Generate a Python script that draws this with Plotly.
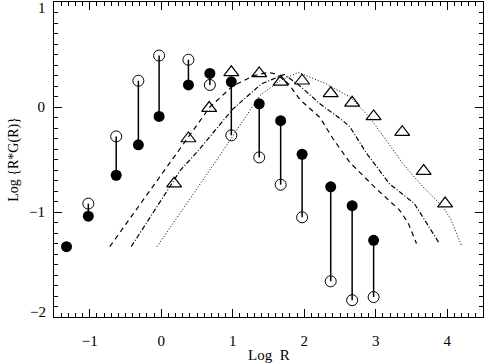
import plotly.graph_objects as go

# Filled circles (x, y)
filled_x = [-1.325, -1.02, -0.63, -0.32, -0.03, 0.38, 0.68, 0.98, 1.37, 1.67, 1.97, 2.37, 2.67, 2.97]
filled_y = [-1.33, -1.04, -0.65, -0.36, -0.09, 0.21, 0.32, 0.24, 0.03, -0.13, -0.45, -0.76, -0.94, -1.27]

# Open circles
open_x = [-1.02, -0.63, -0.32, -0.03, 0.38, 0.68, 0.98, 1.37, 1.67, 1.97, 2.37, 2.67, 2.97]
open_y = [-0.92, -0.28, 0.25, 0.49, 0.45, 0.21, -0.27, -0.48, -0.74, -1.05, -1.66, -1.84, -1.81]

# Open triangles
tri_x = [0.18, 0.38, 0.67, 0.98, 1.37, 1.67, 1.97, 2.37, 2.67, 2.97, 3.37, 3.67, 3.97]
tri_y = [-0.73, -0.30, -0.01, 0.33, 0.32, 0.24, 0.25, 0.13, 0.04, -0.09, -0.24, -0.61, -0.92]

# Model curves
dash_x = [-0.72, 0.0, 0.68, 1.0, 1.3, 1.5, 1.62, 1.78, 1.94, 2.22, 2.40, 2.64, 3.01, 3.33, 3.45, 3.57]
dash_y = [-1.33, -0.64, 0.0, 0.2, 0.3, 0.33, 0.31, 0.22, 0.07, -0.1, -0.3, -0.53, -0.78, -0.98, -1.1, -1.3]

dashdot_x = [-0.42, 0.03, 0.27, 0.5, 1.0, 1.4, 1.72, 1.94, 2.22, 2.54, 2.64, 2.87, 3.19, 3.54, 3.68, 3.89]
dashdot_y = [-1.33, -0.85, -0.6, -0.43, -0.02, 0.22, 0.31, 0.2, 0.03, -0.13, -0.19, -0.44, -0.73, -0.92, -1.07, -1.3]

dot_x = [-0.06, 0.82, 1.38, 1.66, 1.92, 2.31, 2.64, 2.91, 3.15, 3.38, 3.66, 3.94, 4.05, 4.2]
dot_y = [-1.33, -0.46, 0.11, 0.25, 0.33, 0.22, 0.095, -0.095, -0.32, -0.54, -0.76, -0.95, -1.07, -1.32]

x_ticks = [-1, 0, 1, 2, 3, 4]
x_labels = ["\u22121", "0", "1", "2", "3", "4"]
y_ticks = [-2, -1, 0, 1]
y_labels = ["\u22122", "\u22121", "0", "1"]

fig = go.Figure()

# connecting vertical segments
seg_x, seg_y = [], []
for xo, yo in zip(open_x, open_y):
    i = filled_x.index(xo)
    seg_x += [xo, xo, None]
    seg_y += [filled_y[i], yo, None]
fig.add_trace(go.Scatter(x=seg_x, y=seg_y, mode="lines",
                         line=dict(color="black", width=1.5), showlegend=False))

fig.add_trace(go.Scatter(x=dash_x, y=dash_y, mode="lines",
                         line=dict(color="black", width=1.2, dash="5px,4px"), showlegend=False))
fig.add_trace(go.Scatter(x=dashdot_x, y=dashdot_y, mode="lines",
                         line=dict(color="black", width=1.2, dash="5px,2px,1px,2px"), showlegend=False))
fig.add_trace(go.Scatter(x=dot_x, y=dot_y, mode="lines",
                         line=dict(color="black", width=1, dash="1px,2px"), showlegend=False))

fig.add_trace(go.Scatter(x=open_x, y=open_y, mode="markers",
                         marker=dict(symbol="circle-open", size=11, color="black", line=dict(width=1)),
                         showlegend=False))
fig.add_trace(go.Scatter(x=filled_x, y=filled_y, mode="markers",
                         marker=dict(symbol="circle", size=11, color="black"),
                         showlegend=False))
fig.add_trace(go.Scatter(x=tri_x, y=tri_y, mode="markers",
                         marker=dict(symbol="triangle-up-open", size=13, color="black", line=dict(width=1.2)),
                         showlegend=False))

family = "Liberation Serif, Times New Roman, serif"
font = dict(family=family, size=15, color="black")
axis_common = dict(showline=True, linecolor="black", linewidth=1.2, mirror="allticks",
                   ticks="inside", ticklen=8, tickwidth=1.2, tickcolor="black",
                   showgrid=False, zeroline=False, tickfont=font, automargin=False,
                   minor=dict(ticks="inside", ticklen=4, tickwidth=1, tickcolor="black", dtick=0.1, showgrid=False))

fig.update_xaxes(range=[-1.5, 4.5], tickvals=x_ticks, ticktext=x_labels, ticklabelstandoff=10, **axis_common)
# end labels of the y axis are nudged inward (as in the original), drawn as annotations
inner_labels = [lab if t not in (y_ticks[0], y_ticks[-1]) else "" for t, lab in zip(y_ticks, y_labels)]
fig.update_yaxes(range=[-2, 1], tickvals=y_ticks, ticktext=inner_labels, ticklabelstandoff=5, **axis_common)
fig.add_annotation(text=y_labels[-1], xref="paper", yref="y", x=0, y=y_ticks[-1], xanchor="right",
                   yanchor="middle", yshift=-6, xshift=-6, showarrow=False, font=font)
fig.add_annotation(text=y_labels[0], xref="paper", yref="y", x=0, y=y_ticks[0], xanchor="right",
                   yanchor="middle", yshift=5, xshift=-6, showarrow=False, font=font)

fig.add_annotation(text="Log  R", xref="paper", yref="paper", x=0.5, y=-0.122,
                   xanchor="center", yanchor="middle", showarrow=False, font=font)
fig.add_annotation(text="Log {R*G(R)}", xref="paper", yref="paper", x=-0.095, y=0.5,
                   xanchor="center", yanchor="middle", showarrow=False, textangle=-90,
                   font=dict(family=family, size=14, color="black"))

fig.update_layout(width=485, height=363, margin=dict(l=54, r=2, t=2, b=46),
                  plot_bgcolor="white", paper_bgcolor="white")

fig.write_html("out.html", config={"displayModeBar": False},
               post_script="document.body.style.margin='0px';document.body.style.overflow='hidden';")
